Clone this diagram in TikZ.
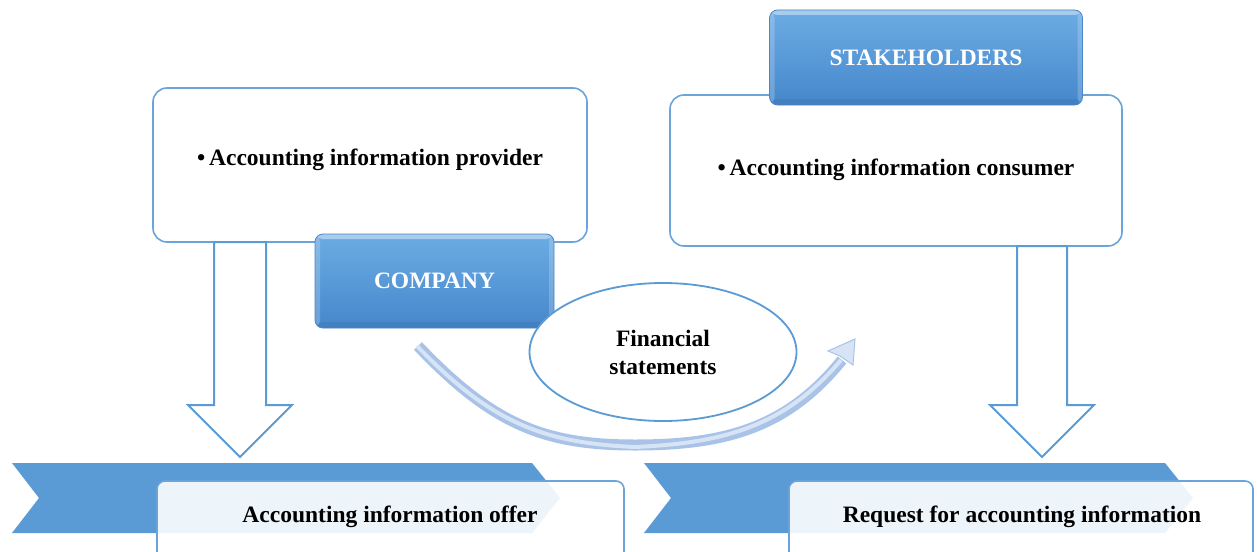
\documentclass[tikz,border=0pt]{standalone}
\usepackage{fontspec}
\setmainfont{Liberation Serif}
\usetikzlibrary{shapes.geometric}
\definecolor{accent}{HTML}{5B9BD5}
\definecolor{edge}{HTML}{6AA4DA}
\definecolor{glosstop}{HTML}{6CACE4}
\definecolor{glossbot}{HTML}{4687CC}
\definecolor{glossedge}{HTML}{4A86C8}
\definecolor{tubeout}{HTML}{A9C3E8}
\definecolor{tubein}{HTML}{D6E4F6}
\begin{document}
\begin{tikzpicture}[x=1pt,y=-1pt,
  every node/.style={font=\bfseries\fontsize{23.5}{28}\selectfont, inner sep=0pt},
  infobox/.style={draw=edge, line width=1.6pt, rounded corners=14pt, fill=white},
  titlebox/.style={draw=glossedge, line width=0.8pt, rounded corners=8pt,
    top color=glosstop, bottom color=glossbot, text=white,
    path picture={
      \fill[white, opacity=0.4] (path picture bounding box.north west)
        rectangle ([yshift=-5pt]path picture bounding box.north east);
      \fill[white, opacity=0.2] (path picture bounding box.north west)
        rectangle ([xshift=5pt]path picture bounding box.south west);
      \fill[white, opacity=0.2] (path picture bounding box.north east)
        rectangle ([xshift=-5pt]path picture bounding box.south east);
      \fill[black, opacity=0.06] (path picture bounding box.south west)
        rectangle ([yshift=6pt]path picture bounding box.south east);}},
  hollowarrow/.style={draw=accent, line width=2pt, fill=white, line join=miter},
  banner/.style={fill=accent},
  labelbox/.style={draw=edge, line width=1.6pt, rounded corners=8pt, fill=white, fill opacity=0.9},
  flowtube/.style={line cap=butt}
]
\clip (0,0) rectangle (1257,551);
\fill[white] (0,0) rectangle (1257,551);

% ---- provider side ----
\node[infobox, minimum width=434pt, minimum height=154pt] (prov) at (370,165) {};
\node (provtext) at (370,160) {•\,Accounting information provider};
\draw[hollowarrow] (214,242) -- (214,405) -- (188,405) -- (240,457)
  -- (292,405) -- (266,405) -- (266,242) -- cycle;
\node[titlebox, minimum width=239pt, minimum height=94pt] (company) at (434.5,281) {COMPANY};

% ---- consumer side ----
\node[infobox, minimum width=452pt, minimum height=151pt] (cons) at (896,170.5) {};
\node (constext) at (896,170) {•\,Accounting information consumer};
\draw[hollowarrow] (1017,246) -- (1017,405) -- (990,405) -- (1042,457)
  -- (1094,405) -- (1067,405) -- (1067,246) -- cycle;
\node[titlebox, minimum width=313pt, minimum height=95pt] (stake) at (926,57.5) {STAKEHOLDERS};

% ---- curved flow of financial statements ----
\coordinate (flowstart) at (418,346);
\coordinate (flowlow) at (635,445);
\coordinate (flowend) at (842,360);
\draw[flowtube, draw=tubeout, line width=11pt] (flowstart)
  .. controls (493,425) and (545,445) .. (flowlow)
  .. controls (725,445) and (787,428) .. (flowend);
\draw[flowtube, draw=tubein, line width=4pt] ([xshift=-1pt]flowstart)
  .. controls (492,424) and (545,443) .. ([yshift=-2pt]flowlow)
  .. controls (725,443) and (785,426) .. ([xshift=-1pt]flowend);
\coordinate (fliptip) at (855,339);
\fill[tubein, draw=tubeout, line width=1pt, line join=miter]
  (fliptip) -- (828,351) -- (840,356) -- (853,365) -- cycle;

\node[ellipse, draw=accent, line width=1.8pt, fill=white, minimum width=267pt,
  minimum height=138pt, align=center] (fs) at (663,352) {Financial\\statements};

% ---- bottom banners ----
\fill[banner] (12,463) -- (532,463) -- (560,498) -- (532,533) -- (12,533) -- (39,498) -- cycle;
\draw[labelbox] (157,481) rectangle (624,575);
\node (offer) at (390,517) {Accounting information offer};

\fill[banner] (644,463) -- (1165,463) -- (1193,498) -- (1165,533) -- (644,533) -- (671,498) -- cycle;
\draw[labelbox] (789,481) rectangle (1253,575);
\node (request) at (1022,517) {Request for accounting information};
\end{tikzpicture}
\end{document}
